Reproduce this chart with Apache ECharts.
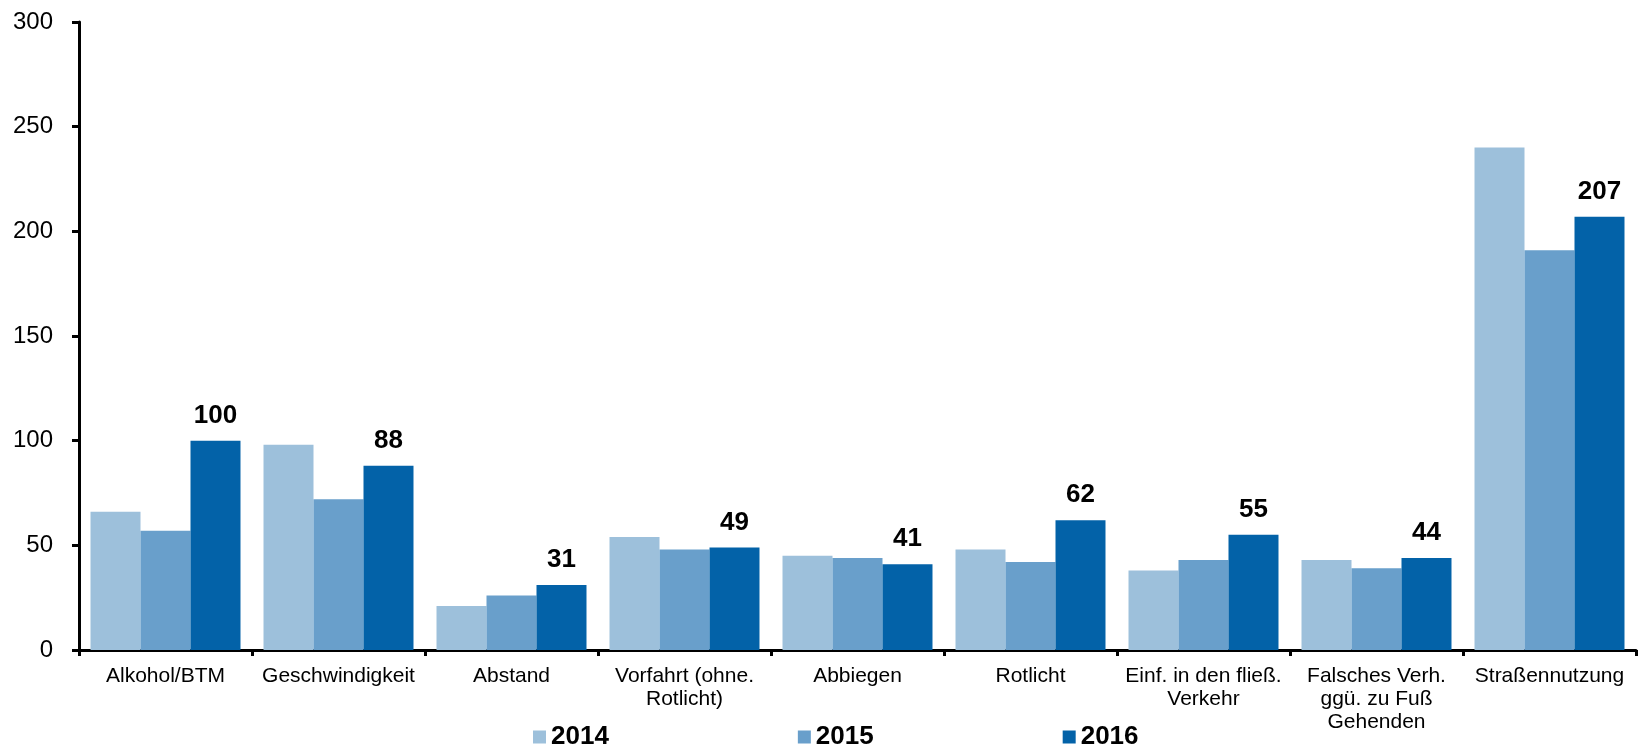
<!DOCTYPE html>
<html>
<head>
<meta charset="utf-8">
<script src="https://cdn.jsdelivr.net/npm/echarts@6/dist/echarts.min.js"></script>
<style>html,body{margin:0;padding:0;background:#fff}#c{width:1639px;height:750px}</style>
</head>
<body>
<div id="c"></div>
<script>
const categories = ["Alkohol/BTM", "Geschwindigkeit", "Abstand", "Vorfahrt (ohne.\nRotlicht)", "Abbiegen", "Rotlicht", "Einf. in den fließ.\nVerkehr", "Falsches Verh.\nggü. zu Fuß\nGehenden", "Straßennutzung"];
const seriesNames = ["2014", "2015", "2016"];
const values2014 = [66, 98, 21, 54, 45, 48, 38, 43, 240];
const values2015 = [57, 72, 26, 48, 44, 42, 43, 39, 191];
const values2016 = [100, 88, 31, 49, 41, 62, 55, 44, 207];
const yTicks = [0, 50, 100, 150, 200, 250, 300];

const colors = ["#9DC0DB", "#699FCB", "#0362A8"];
const chart = echarts.init(document.getElementById('c'));
const font = "Liberation Sans, Arial, sans-serif";
chart.setOption({
  animation: false,
  textStyle: {fontFamily: font},
  legend: {
    data: seriesNames,
    left: 528, top: 719, padding: 5,
    itemWidth: 13, itemHeight: 13, itemGap: 189,
    icon: 'rect',
    textStyle: {fontSize: 26, fontWeight: 'bold', color: '#000', fontFamily: font}
  },
  grid: {left: 79, right: 3, top: 22, bottom: 100, containLabel: false},
  xAxis: {
    type: 'category',
    data: categories,
    axisLine: {lineStyle: {color: '#000', width: 3}},
    axisTick: {show: true, length: 6, lineStyle: {color: '#000', width: 3}},
    axisLabel: {fontSize: 21, color: '#000', fontFamily: font, lineHeight: 23, margin: 15, interval: 0}
  },
  yAxis: {
    type: 'value', min: 0, max: 300, interval: 50,
    axisLine: {show: true, lineStyle: {color: '#000', width: 3}},
    axisTick: {show: true, length: 7, lineStyle: {color: '#000', width: 3}},
    splitLine: {show: false},
    axisLabel: {fontSize: 24, color: '#000', fontFamily: font, margin: 26,
      formatter: v => yTicks.includes(v) ? String(v) : ''}
  },
  series: [
    {name: seriesNames[0], type: 'bar', data: values2014, barGap: '0%', barCategoryGap: '13.3%', itemStyle: {color: colors[0]}},
    {name: seriesNames[1], type: 'bar', data: values2015, barGap: '0%', barCategoryGap: '13.3%', itemStyle: {color: colors[1]}},
    {name: seriesNames[2], type: 'bar', data: values2016, barGap: '0%', barCategoryGap: '13.3%', itemStyle: {color: colors[2]},
      label: {show: true, position: 'top', distance: 12, fontSize: 26, fontWeight: 'bold', color: '#000', fontFamily: font}}
  ]
});
</script>
</body>
</html>
